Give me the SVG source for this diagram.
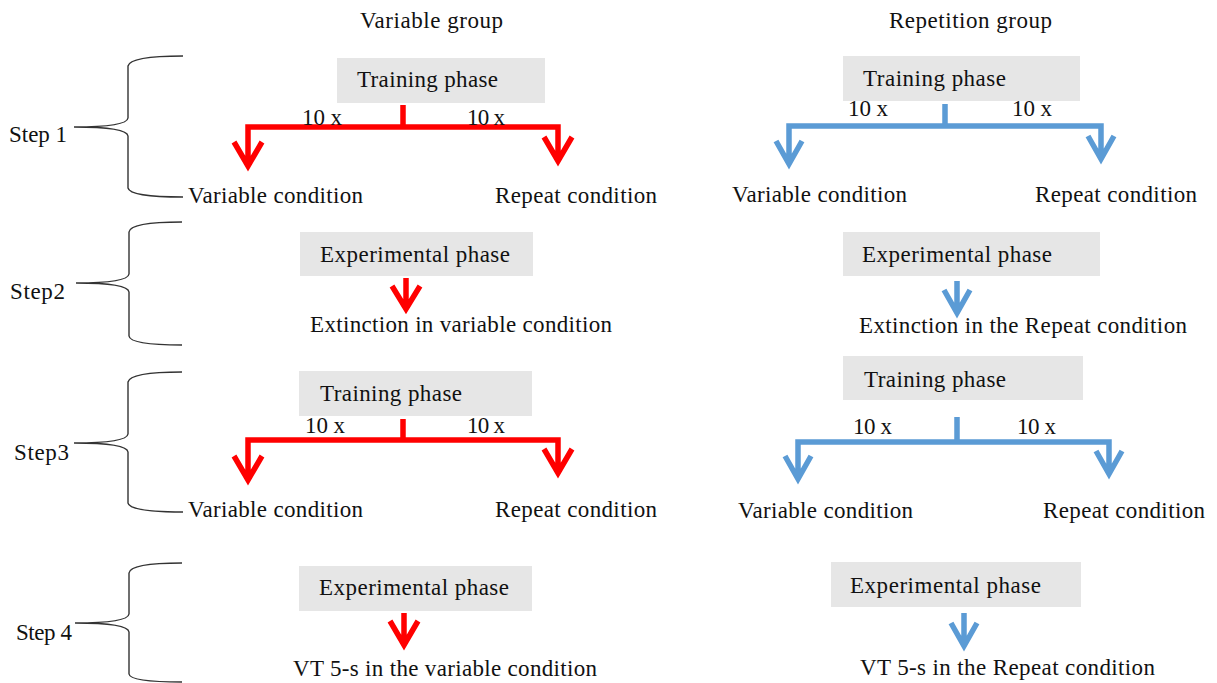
<svg xmlns="http://www.w3.org/2000/svg" width="1217" height="683" viewBox="0 0 1217 683">
<style>
text{font-family:"Liberation Serif","Times New Roman",serif;font-size:23px;fill:#111}
.box{fill:#E6E6E6}
.brace{fill:none;stroke:#333;stroke-width:1.4}
.red{fill:none;stroke:#FF0000;stroke-width:5.5;stroke-linejoin:miter;stroke-miterlimit:10}
.blue{fill:none;stroke:#5B9BD5;stroke-width:5.5;stroke-linejoin:miter;stroke-miterlimit:10}
</style>
<rect width="1217" height="683" fill="#fff"/>
<g id="headers">
<text x="360" y="28" textLength="143">Variable group</text>
<text x="889" y="28" textLength="163">Repetition group</text>
</g>
<g id="steps">
<g id="step1"><path class="brace" d="M183 56 Q130 56 128 66 L128 118 Q127 127 74 127 Q127 127 128 136 L128 188 Q130 197 183 197"/><text x="9" y="142" textLength="58">Step 1</text></g>
<g id="step2"><path class="brace" d="M182 222 Q130 222 129 232 L129 274 Q128 283 76 283 Q128 283 129 292 L129 336 Q130 345 182 345"/><text x="10" y="299" textLength="55">Step2</text></g>
<g id="step3"><path class="brace" d="M182 372 Q130 372 128 382 L128 434 Q127 443 74 443 Q127 443 128 452 L128 503 Q130 512 183 512"/><text x="14" y="460" textLength="55">Step3</text></g>
<g id="step4"><path class="brace" d="M182 563 Q130 563 129 573 L129 614 Q128 623 75 623 Q128 623 129 632 L129 674 Q130 682 182 682"/><text x="16" y="640" textLength="56">Step 4</text></g>
</g>
<g id="connectors">
<path class="red" d="M248 166 V127 H558 V161 M403 105 V127 M234 142 L248 166 L262 142 M544 137 L558 161 L572 137"/>
<path class="blue" d="M789 164 V126 H1101 V159 M945 104 V126 M776 141 L789 164 L802 141 M1088 136 L1101 159 L1114 136"/>
<path class="red" d="M406 278 V309 M392 286 L406 309 L420 286"/>
<path class="blue" d="M957 281 V313 M944 290 L957 313 L970 290"/>
<path class="red" d="M248 480 V440 H558 V473 M403 419 V440 M234 456 L248 480 L262 456 M544 449 L558 473 L572 449"/>
<path class="blue" d="M798 479 V442 H1109 V474 M957 417 V442 M785 456 L798 479 L811 456 M1096 451 L1109 474 L1122 451"/>
<path class="red" d="M404 613 V645 M390 621 L404 645 L418 621"/>
<path class="blue" d="M964 613 V646 M951 623 L964 646 L977 623"/>
</g>
<g id="var-training1"><rect class="box" x="337" y="58" width="208" height="45"/><text x="357" y="87" textLength="141">Training phase</text></g>
<g id="rep-training1"><rect class="box" x="843" y="56" width="237" height="45"/><text x="863" y="86" textLength="143">Training phase</text></g>
<g id="var-labels1"><text x="302" y="125" textLength="40">10 x</text><text x="467" y="125" textLength="38">10 x</text></g>
<g id="rep-labels1"><text x="848" y="116" textLength="40">10 x</text><text x="1012" y="116" textLength="40">10 x</text></g>
<g id="var-cond1"><text x="188" y="203" textLength="175">Variable condition</text><text x="495" y="203" textLength="162">Repeat condition</text></g>
<g id="rep-cond1"><text x="732" y="202" textLength="175">Variable condition</text><text x="1035" y="202" textLength="162">Repeat condition</text></g>
<g id="var-exp2"><rect class="box" x="300" y="232" width="233" height="44"/><text x="320" y="262" textLength="190">Experimental phase</text></g>
<g id="rep-exp2"><rect class="box" x="843" y="232" width="257" height="44"/><text x="862" y="262" textLength="190">Experimental phase</text></g>
<g id="var-ext"><text x="310" y="332" textLength="302">Extinction in variable condition</text></g>
<g id="rep-ext"><text x="859" y="333" textLength="328">Extinction in the Repeat condition</text></g>
<g id="var-training3"><rect class="box" x="299" y="371" width="233" height="45"/><text x="320" y="401" textLength="142">Training phase</text></g>
<g id="rep-training3"><rect class="box" x="843" y="356" width="240" height="44"/><text x="864" y="387" textLength="142">Training phase</text></g>
<g id="var-labels3"><text x="305" y="433" textLength="40">10 x</text><text x="467" y="433" textLength="38">10 x</text></g>
<g id="rep-labels3"><text x="853" y="434" textLength="39">10 x</text><text x="1017" y="434" textLength="39">10 x</text></g>
<g id="var-cond3"><text x="188" y="517" textLength="175">Variable condition</text><text x="495" y="517" textLength="162">Repeat condition</text></g>
<g id="rep-cond3"><text x="738" y="518" textLength="175">Variable condition</text><text x="1043" y="518" textLength="162">Repeat condition</text></g>
<g id="var-exp4"><rect class="box" x="299" y="566" width="233" height="45"/><text x="319" y="595" textLength="190">Experimental phase</text></g>
<g id="rep-exp4"><rect class="box" x="831" y="562" width="250" height="45"/><text x="850" y="593" textLength="191">Experimental phase</text></g>
<g id="var-vt"><text x="293" y="676" textLength="304">VT 5-s in the variable condition</text></g>
<g id="rep-vt"><text x="860" y="675" textLength="295">VT 5-s in the Repeat condition</text></g>
</svg>
